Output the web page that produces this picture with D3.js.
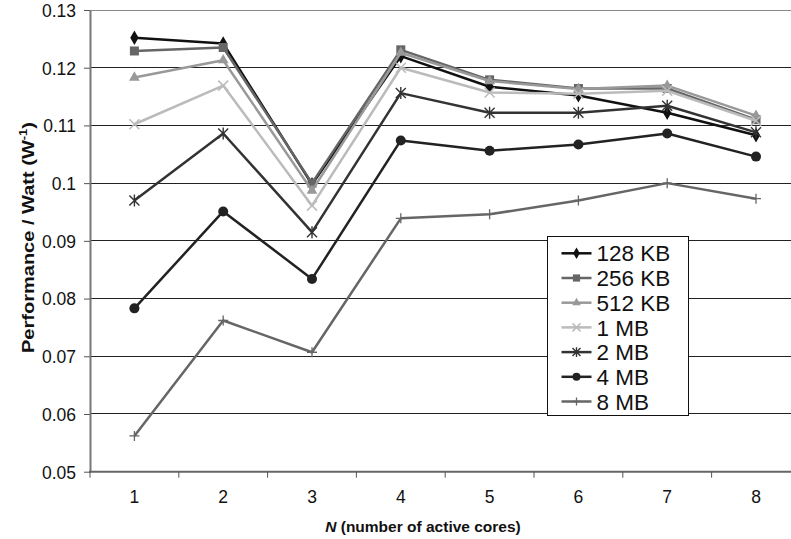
<!DOCTYPE html>
<html>
<head>
<meta charset="utf-8">
<script src="https://cdn.jsdelivr.net/npm/d3@7"></script>
<style>
  body { margin: 0; background: #fff; }
  svg { display: block; font-family: Arial, "Liberation Sans", sans-serif; }
</style>
</head>
<body>
<svg></svg>
<script>
const size = {w: 791, h: 539};
const svg = d3.select('svg').attr('width', size.w).attr('height', size.h);

// data
const cores = [1, 2, 3, 4, 5, 6, 7, 8];
const yTicks = [0.05, 0.06, 0.07, 0.08, 0.09, 0.1, 0.11, 0.12, 0.13];
const seriesNames = ['128 KB', '256 KB', '512 KB', '1 MB', '2 MB', '4 MB', '8 MB'];
const kb128 = [0.1252, 0.1242, 0.0998, 0.1220, 0.1167, 0.1152, 0.1122, 0.1083];
const kb256 = [0.1229, 0.1235, 0.1000, 0.1231, 0.1179, 0.1164, 0.1164, 0.1110];
const kb512 = [0.1183, 0.1213, 0.0987, 0.1226, 0.1177, 0.1163, 0.1169, 0.1117];
const mb1   = [0.1102, 0.1169, 0.0961, 0.1200, 0.1157, 0.1155, 0.1160, 0.1108];
const mb2   = [0.0970, 0.1086, 0.0915, 0.1156, 0.1122, 0.1122, 0.1134, 0.1088];
const mb4   = [0.0783, 0.0951, 0.0834, 0.1074, 0.1056, 0.1067, 0.1086, 0.1046];
const mb8   = [0.0562, 0.0762, 0.0707, 0.0939, 0.0946, 0.0970, 0.1000, 0.0973];

const series = [
  {name: seriesNames[0], values: kb128, color: '#111', marker: 'diamond'},
  {name: seriesNames[1], values: kb256, color: '#666', marker: 'square'},
  {name: seriesNames[2], values: kb512, color: '#999', marker: 'triangle'},
  {name: seriesNames[3], values: mb1,   color: '#bbb', marker: 'cross'},
  {name: seriesNames[4], values: mb2,   color: '#333', marker: 'asterisk'},
  {name: seriesNames[5], values: mb4,   color: '#222', marker: 'circle'},
  {name: seriesNames[6], values: mb8,   color: '#666', marker: 'plus'}
];

// plot area (right edge runs past the window, as in the reference)
const plot = {l: 90, r: 800.4, t: 10, b: 471.7};

const x = d3.scaleBand().domain(cores).range([plot.l, plot.r]).padding(0);
const y = d3.scaleLinear().domain([0.05, 0.13]).range([plot.b, plot.t]);
const cx = d => x(d) + x.bandwidth() / 2;

// gridlines
svg.append('g').selectAll('line')
  .data(yTicks.filter(t => t > 0.05))
  .join('line')
  .attr('x1', plot.l).attr('x2', plot.r)
  .attr('y1', d => y(d)).attr('y2', d => y(d))
  .attr('stroke', d => d === 0.13 ? '#888' : '#222')
  .attr('stroke-width', 1)
  .attr('shape-rendering', 'crispEdges');

// y axis
const yAxis = svg.append('g')
  .attr('transform', `translate(${plot.l},0)`)
  .call(d3.axisLeft(y).tickValues(yTicks).tickFormat(d3.format('~g')).tickSize(6).tickSizeOuter(0));
yAxis.select('.domain').attr('stroke', '#777').attr('stroke-width', 2);
yAxis.selectAll('.tick line').attr('stroke', '#555');
yAxis.selectAll('.tick text')
  .attr('font-size', 17.5).attr('fill', '#111').attr('x', -14).attr('dy', '0.36em')
  .attr('font-family', 'Arial, "Liberation Sans", sans-serif');

// x axis: ticks between categories
const xg = svg.append('g');
xg.append('line')
  .attr('x1', plot.l - 1).attr('x2', plot.r)
  .attr('y1', plot.b).attr('y2', plot.b)
  .attr('stroke', '#666').attr('stroke-width', 2);
xg.selectAll('line.tk')
  .data(cores)
  .join('line').classed('tk', true)
  .attr('x1', d => x(d)).attr('x2', d => x(d))
  .attr('y1', plot.b).attr('y2', plot.b + 6)
  .attr('stroke', '#555');
xg.selectAll('text')
  .data(cores)
  .join('text')
  .attr('x', cx)
  .attr('y', 503)
  .attr('text-anchor', 'middle')
  .attr('font-size', 17.5)
  .attr('fill', '#111')
  .text(d => d);

// axis titles
const xt = svg.append('text')
  .attr('x', 423).attr('y', 532)
  .attr('text-anchor', 'middle')
  .attr('font-size', 15.5).attr('font-weight', 'bold').attr('fill', '#111');
xt.append('tspan').attr('font-style', 'italic').text('N');
xt.append('tspan').text(' (number of active cores)');

const yt = svg.append('text')
  .attr('transform', 'translate(34,237.5) rotate(-90)')
  .attr('text-anchor', 'middle')
  .attr('font-size', 17).attr('font-weight', 'bold').attr('fill', '#111')
  .attr('textLength', 231).attr('lengthAdjust', 'spacingAndGlyphs');
yt.append('tspan').text('Performance / Watt (W');
yt.append('tspan').attr('font-size', 11).attr('dy', -7).text('-1');
yt.append('tspan').attr('dy', 7).text(')');

// marker drawing
function drawMarker(g, type, color, s) {
  s = s || 1;
  if (type === 'diamond') {
    g.append('path').attr('d', d3.symbol(d3.symbolDiamond, 60 * s * s)()).attr('fill', color);
  } else if (type === 'square') {
    g.append('rect').attr('x', -4.5 * s).attr('y', -4.5 * s).attr('width', 9 * s).attr('height', 9 * s).attr('fill', color);
  } else if (type === 'triangle') {
    g.append('path').attr('d', d3.symbol(d3.symbolTriangle, 50 * s * s)()).attr('fill', color);
  } else if (type === 'circle') {
    g.append('circle').attr('r', 5 * s).attr('fill', color);
  } else if (type === 'cross') {
    const r = 5 * s;
    g.append('path').attr('d', `M${-r},${-r}L${r},${r}M${-r},${r}L${r},${-r}`)
      .attr('stroke', color).attr('stroke-width', 1.5);
  } else if (type === 'asterisk') {
    const r = 5 * s;
    g.append('path').attr('d', `M${-r},${-r}L${r},${r}M${-r},${r}L${r},${-r}M0,${-r * 1.2}L0,${r * 1.2}`)
      .attr('stroke', color).attr('stroke-width', 1.4);
  } else if (type === 'plus') {
    const r = 5 * s;
    g.append('path').attr('d', `M${-r},0L${r},0M0,${-r}L0,${r}`)
      .attr('stroke', color).attr('stroke-width', 1.3);
  }
}

// lines and markers
const line = d3.line().x((d, i) => cx(cores[i])).y(d => y(d));
const linesG = svg.append('g');
series.forEach(s => {
  const g = linesG.append('g');
  g.append('path')
    .attr('d', line(s.values))
    .attr('fill', 'none')
    .attr('stroke', s.color)
    .attr('stroke-width', 2.5)
    .attr('stroke-linejoin', 'round');
  s.values.forEach((v, i) => {
    const m = g.append('g').attr('transform', `translate(${cx(cores[i])},${y(v)})`);
    drawMarker(m, s.marker, s.color);
  });
});

// legend
const legend = svg.append('g').attr('transform', 'translate(547.5,236.5)');
legend.append('rect')
  .attr('width', 141).attr('height', 179)
  .attr('fill', '#fff').attr('stroke', '#111').attr('stroke-width', 1);
series.forEach((s, i) => {
  const row = legend.append('g').attr('transform', `translate(0,${16.8 + i * 24.7})`);
  row.append('line').attr('x1', 14).attr('x2', 44).attr('y1', 0).attr('y2', 0)
    .attr('stroke', s.color).attr('stroke-width', 2.5);
  const m = row.append('g').attr('transform', 'translate(29,0)');
  drawMarker(m, s.marker, s.color, 0.8);
  row.append('text')
    .attr('x', 49).attr('y', 0).attr('dy', '0.36em')
    .attr('font-size', 22.5).attr('fill', '#111')
    .text(s.name);
});
</script>
</body>
</html>
